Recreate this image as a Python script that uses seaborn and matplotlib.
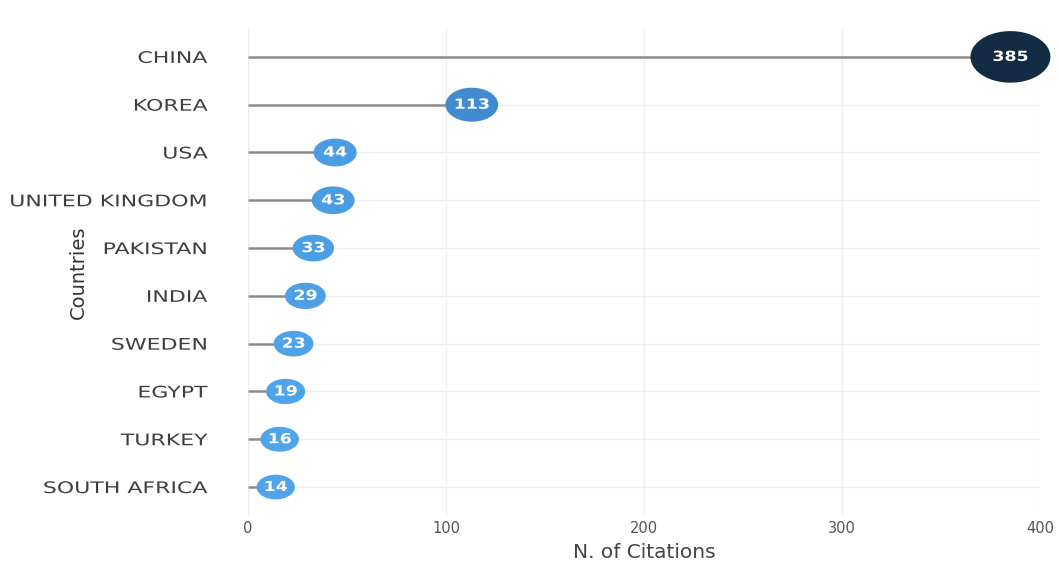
import matplotlib.pyplot as plt
import numpy as np
import pandas as pd
import seaborn as sns
from matplotlib.colors import LinearSegmentedColormap
from matplotlib.path import Path
from matplotlib.patheffects import AbstractPathEffect
from matplotlib.transforms import Affine2D

countries = ["CHINA", "KOREA", "USA", "UNITED KINGDOM", "PAKISTAN",
             "INDIA", "SWEDEN", "EGYPT", "TURKEY", "SOUTH AFRICA"]
citations = [385, 113, 44, 43, 33, 29, 23, 19, 16, 14]
x_ticks = [0, 100, 200, 300, 400]

df = pd.DataFrame({"country": countries, "citations": citations})


class Stretch(AbstractPathEffect):
    # widen glyphs sideways, the original text is wide (stretched image)
    def __init__(self, sx, anchor="right"):
        super().__init__()
        self.sx = sx
        self.anchor = anchor

    def draw_path(self, renderer, gc, tpath, affine, rgbFace=None):
        xs = tpath.vertices[:, 0]
        x0 = xs.max() if self.anchor == "right" else (xs.min() + xs.max()) / 2
        aff = Affine2D().translate(-x0, 0).scale(self.sx, 1).translate(x0, 0) + affine
        renderer.draw_path(gc, tpath, aff, rgbFace)


sns.set_style("white")
plt.rcParams['font.family'] = ['DejaVu Sans']

# the dots are ellipses in the original
t = np.linspace(0, 2 * np.pi, 60)
ellipse = Path(np.column_stack([1.55 * np.cos(t), np.sin(t)]), closed=True)

cmap = LinearSegmentedColormap.from_list("cites", ["#4FA4EA", "#3676BC", "#132B43"])

fig = plt.figure(figsize=(10.59, 5.61), dpi=100)
ax = fig.add_axes([0.2342, 0.0807, 0.748, 0.869])

ax.hlines(df["country"], 0, df["citations"], color="#8c8c8c", linewidth=1.8, zorder=2)

sns.scatterplot(data=df, x="citations", y="country", hue="citations", palette=cmap,
                size="citations", sizes=(760, 3320), marker=ellipse,
                linewidth=0, legend=False, ax=ax, zorder=3, clip_on=False)

for c, v in zip(countries, citations):
    ax.text(v, c, str(v), ha="center", va="center", color="white",
            fontsize=10, fontweight="bold", zorder=4,
            path_effects=[Stretch(1.25, "center")])

ax.set_xlim(0, 400)
ax.set_ylim(9.6, -0.6)
ax.set_xticks(x_ticks)
ax.grid(True, color="#eeeeee", linewidth=0.9)
ax.set_axisbelow(True)
for s in ax.spines.values():
    s.set_visible(False)

ax.tick_params(axis="y", length=0, pad=29, labelsize=11.5, labelcolor="#3f3f3f")
ax.tick_params(axis="x", length=0, pad=4, labelsize=10.5, labelcolor="#555555")
for lab in ax.get_yticklabels():
    lab.set_path_effects([Stretch(1.38, "right")])

ax.set_xlabel("N. of Citations", fontsize=14.5, color="#444444", labelpad=5)
ax.set_ylabel("Countries", fontsize=14, color="#333333")
ax.yaxis.set_label_coords(-0.202, 0.5)

fig.savefig("out.png", dpi=100)
